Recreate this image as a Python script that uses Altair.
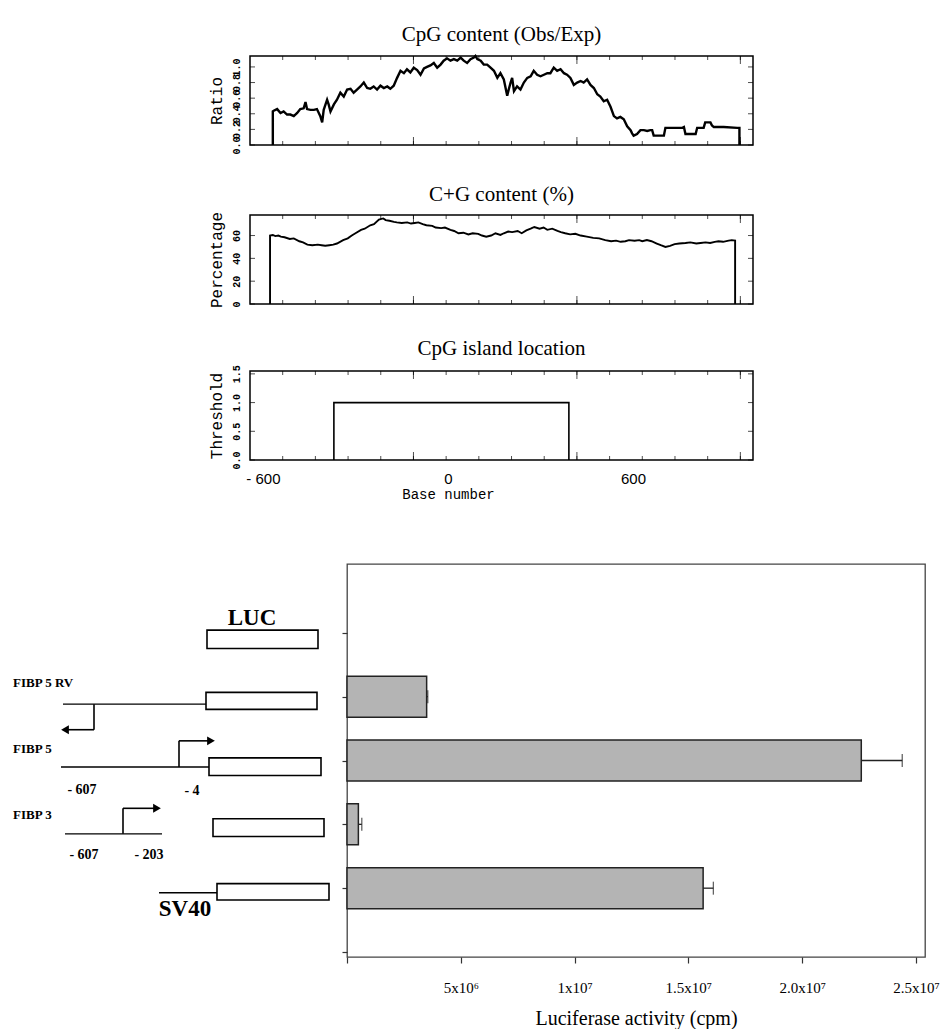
import altair as alt
import pandas as pd

# ---------------- top panels data (base number vs value) ----------------
ratio_base = [-568, -568, -565, -554, -543, -533, -522, -511, -500, -489, -479, -468, -462, -457,
              -446, -435, -425, -414, -408, -403, -392, -387, -381, -370, -360, -349, -338, -327,
              -316, -306, -295, -284, -273, -262, -252, -241, -230, -219, -208, -197, -187, -176,
              -165, -154, -143, -133, -122, -111, -100, -89, -78, -68, -57, -46, -35, -24, -14,
              -3, 8, 19, 30, 41, 51, 62, 73, 84, 89, 95, 106, 116, 127, 138, 149, 160, 170, 181,
              192, 197, 203, 208, 214, 224, 235, 246, 257, 268, 278, 289, 300, 311, 322, 332, 343,
              354, 365, 376, 386, 397, 408, 419, 430, 440, 451, 462, 473, 484, 494, 505, 516, 527,
              538, 548, 559, 570, 581, 592, 597, 602, 613, 624, 635, 646, 656, 662, 667, 700, 705,
              760, 765, 770, 803, 808, 819, 829, 834, 851, 856, 862, 894, 938, 945, 945]
ratio_value = [0, 0.43, 0.44, 0.46, 0.41, 0.43, 0.39, 0.39, 0.37, 0.41, 0.46, 0.47, 0.55, 0.46,
               0.45, 0.45, 0.46, 0.37, 0.29, 0.45, 0.58, 0.52, 0.43, 0.52, 0.58, 0.67, 0.62, 0.71,
               0.72, 0.67, 0.71, 0.75, 0.80, 0.73, 0.72, 0.75, 0.71, 0.76, 0.73, 0.75, 0.72, 0.76,
               0.86, 0.95, 0.92, 0.97, 0.93, 0.99, 0.96, 0.90, 0.98, 1.00, 1.02, 1.05, 0.99, 1.03,
               1.08, 1.11, 1.08, 1.10, 1.08, 1.12, 1.08, 1.05, 1.10, 1.12, 1.14, 1.10, 1.08, 1.03,
               1.03, 0.99, 0.95, 0.86, 0.92, 0.84, 0.63, 0.71, 0.80, 0.86, 0.69, 0.75, 0.71, 0.80,
               0.86, 0.88, 0.95, 0.90, 0.88, 0.90, 0.92, 0.92, 0.99, 0.95, 0.97, 0.92, 0.90, 0.86,
               0.77, 0.80, 0.82, 0.80, 0.84, 0.77, 0.73, 0.65, 0.62, 0.56, 0.58, 0.49, 0.37, 0.34,
               0.36, 0.33, 0.24, 0.19, 0.15, 0.12, 0.14, 0.19, 0.19, 0.18, 0.19, 0.19, 0.12, 0.12,
               0.22, 0.22, 0.23, 0.14, 0.14, 0.22, 0.22, 0.22, 0.29, 0.29, 0.25, 0.23, 0.23, 0.22,
               0.22, 0]

gc_base = [-577, -577, -568, -560, -550, -542, -530, -513, -500, -482, -470, -456, -440, -422,
           -410, -398, -385, -372, -360, -340, -325, -312, -300, -282, -270, -252, -240, -224,
           -210, -202, -190, -175, -166, -150, -132, -120, -108, -96, -82, -70, -51, -40, -22,
           -10, 8, 20, 34, 50, 66, 80, 98, 110, 124, 140, 154, 170, 181, 195, 208, 226, 239, 254,
           268, 280, 297, 310, 322, 338, 355, 366, 380, 396, 413, 430, 450, 471, 490, 510, 529,
           545, 560, 575, 587, 605, 620, 630, 645, 660, 677, 690, 705, 720, 735, 750, 770, 786,
           805, 819, 835, 850, 865, 877, 892, 910, 920, 931, 931]
gc_value = [0, 60, 60.5, 59.5, 60, 59, 58.5, 57, 57.5, 55, 54, 52, 51.5, 52, 51.5, 51, 51.5, 52,
            53, 56, 57.5, 60, 62, 65, 66, 69, 70, 74, 75, 73.5, 73, 72, 71.5, 71, 71.5, 70.5, 71,
            71.5, 70, 69, 68.5, 67, 66.5, 67, 65, 64, 62, 62.5, 61, 62, 61.5, 60, 59, 60, 62,
            60.5, 62, 63.5, 63, 64, 62, 64.5, 66, 67.5, 66, 67, 65, 66, 64, 63, 62, 61, 61.5, 60,
            59, 58, 57.5, 56, 55, 55.5, 54.5, 55, 56, 55.5, 56, 55, 56, 55, 53, 51.5, 50, 51, 52.5,
            53, 53.5, 54, 53, 53.5, 54, 53.5, 54.5, 55, 54.5, 55.5, 56, 55.5, 0]

island_base = [-370, -370, 392, 392]
island_value = [0, 1, 1, 0]

x_ticks_minor = [-536, -430, -324, -218, -112, -6, 100, 206, 312, 418, 524, 630, 736, 842, 948]
x_ticks_major = [-112, 418, 948]
x_label_values = [-600, 0, 600]
x_label_texts = ["- 600", "0", "600"]

# ---------------- luciferase data ----------------
constructs = ["LUC", "FIBP 5 RV", "FIBP 5", "FIBP 3", "SV40"]
rows = [1, 2, 3, 4, 5]
activity = [0, 3.5e6, 22.6e6, 0.5e6, 15.65e6]
activity_err = [0, 0.05e6, 1.8e6, 0.15e6, 0.45e6]
lum_tick_values = [0, 5e6, 1e7, 1.5e7, 2e7, 2.5e7]
lum_tick_labels = ["", "5x10\u2076", "1x10\u2077", "1.5x10\u2077", "2.0x10\u2077", "2.5x10\u2077"]

# ---------------- construct diagram (schematic units) ----------------
box_x1 = [199, 198, 201, 205, 209]
box_x2 = [310, 309, 313, 316, 321]
box_row_top = [1.01, 1.96, 2.96, 3.89, 4.88]
box_row_bottom = [1.29, 2.22, 3.23, 4.16, 5.13]
prom_x1 = [55, 53, 57, 151]
prom_x2 = [198, 201, 154, 209]
prom_row = [2.14, 3.10, 4.12, 5.02]
arrow_x = [86, 171, 115]
arrow_row_from = [2.14, 3.10, 4.12]
arrow_row_to = [2.53, 2.70, 3.73]
arrow_x_end = [60, 200, 146]
head_x = [57, 203, 149]
head_shape = ["triangle-left", "triangle-right", "triangle-right"]
big_labels = ["LUC", "SV40"]
big_label_x = [244, 177]
big_label_row = [0.83, 5.27]
name_labels = ["FIBP 5 RV", "FIBP 5", "FIBP 3"]
name_label_x = [5, 5, 5]
name_label_row = [1.82, 2.83, 3.83]
pos_labels = ["- 607", "- 4", "- 607", "- 203"]
pos_label_x = [74, 184, 76, 141]
pos_label_row = [3.45, 3.46, 4.44, 4.44]

# ---------------- layout settings ----------------
PW, PH = 503, 89
XDOM = [-642, 989]
MONO = "Liberation Mono"
SERIF = "Liberation Serif"


def frame_view(color="black", width=1.5):
    return alt.ViewBackground(stroke=color, strokeWidth=width, fill=None)


def panel(base, values, ydom, yvals, yfmt, ytitle, title, line_w, show_x=False):
    df = pd.DataFrame({"x": base, "y": values, "i": list(range(len(base)))})
    if show_x:
        expr = " : ".join(
            f"datum.value == {v} ? '{t}'" for v, t in zip(x_label_values, x_label_texts)
        ) + " : ''"
        xaxis = alt.Axis(values=x_label_values, labelExpr=expr, ticks=False, domain=False,
                         grid=False, labelFont="Liberation Sans", labelFontSize=15,
                         labelColor="black", labelPadding=11, title="Base number",
                         titleFont=MONO, titleFontSize=14, titleFontWeight="normal",
                         titleColor="black", titlePadding=1, titleX=198, titleAlign="center")
    else:
        xaxis = None
    X = alt.X("x:Q", scale=alt.Scale(domain=XDOM, nice=False, zero=False), axis=xaxis)
    Y = alt.Y("y:Q", scale=alt.Scale(domain=ydom, nice=False, zero=False),
              axis=alt.Axis(values=yvals, format=yfmt, labelAngle=270, labelAlign="center",
                            labelBaseline="bottom", labelOverlap=False, labelFont=MONO,
                            labelFontSize=10, labelFontWeight="bold", labelColor="black",
                            labelPadding=9, ticks=False, domain=False, grid=False,
                            title=ytitle, titleFont=MONO, titleFontSize=16,
                            titleFontWeight="normal", titleColor="black", titlePadding=7))
    line = alt.Chart(df).mark_line(color="black", strokeWidth=line_w, strokeJoin="miter").encode(
        x=X, y=Y, order="i:Q")
    tmin = pd.DataFrame({"x": x_ticks_minor})
    tmaj = pd.DataFrame({"x": x_ticks_major})
    yt = pd.DataFrame({"y": yvals})
    layers = [line]
    for d, s in ((tmin, 4), (tmaj, 8)):
        layers.append(alt.Chart(d).mark_tick(orient="vertical", size=s, thickness=1, color="black")
                      .encode(x=X, y=alt.value(PH - s / 2)))
        layers.append(alt.Chart(d).mark_tick(orient="vertical", size=s, thickness=1, color="black")
                      .encode(x=X, y=alt.value(s / 2)))
    layers.append(alt.Chart(yt).mark_tick(orient="horizontal", size=5, thickness=1, color="black")
                  .encode(y=Y, x=alt.value(2.5)))
    layers.append(alt.Chart(yt).mark_tick(orient="horizontal", size=5, thickness=1, color="black")
                  .encode(y=Y, x=alt.value(PW - 2.5)))
    return alt.layer(*layers).properties(
        width=PW, height=PH, view=frame_view(),
        title=alt.TitleParams(title, font=SERIF, fontSize=21, fontWeight="normal",
                              color="black", anchor="middle", frame="group", offset=6))


p1 = panel(ratio_base, ratio_value, [0, 1.14], [0, 0.2, 0.4, 0.6, 0.8, 1.0], ".1f",
           "Ratio", "CpG content (Obs/Exp)", 2.4)
p2 = panel(gc_base, gc_value, [0, 78], [0, 20, 40, 60], "d",
           "Percentage", "C+G content (%)", 1.9)
p3 = panel(island_base, island_value, [0, 1.55], [0, 0.5, 1.0, 1.5], ".1f",
           "Threshold", "CpG island location", 1.6, show_x=True)

top_stack = alt.vconcat(p1, p2, p3, spacing=28)

spacer = alt.Chart(pd.DataFrame({"s": [0]})).mark_point(opacity=0).encode(
    x=alt.X("s:Q", axis=None), y=alt.Y("s:Q", axis=None)
).properties(width=199, height=1, view=alt.ViewBackground(stroke=None))

top_row = alt.hconcat(spacer, top_stack, spacing=0)

# ---------------- bottom: diagram + bars ----------------
BH = 393
BW = 578
DW = 332
ROWDOM = [0, 6]

DX = alt.X("dx:Q", scale=alt.Scale(domain=[0, DW], nice=False, zero=False), axis=None)
DY = alt.Y("dy:Q", scale=alt.Scale(domain=ROWDOM, reverse=True, nice=False, zero=False), axis=None)
DY2 = alt.Y2("dy2:Q")
DX2 = alt.X2("dx2:Q")

boxes = alt.Chart(pd.DataFrame({"dx": box_x1, "dx2": box_x2, "dy": box_row_top,
                                "dy2": box_row_bottom})).mark_rect(
    fill="white", stroke="black", strokeWidth=1.6).encode(x=DX, x2=DX2, y=DY, y2=DY2)
prom = alt.Chart(pd.DataFrame({"dx": prom_x1, "dx2": prom_x2, "dy": prom_row})).mark_rule(
    color="black", strokeWidth=1.4).encode(x=DX, x2=DX2, y=DY)
stems = alt.Chart(pd.DataFrame({"dx": arrow_x, "dy": arrow_row_from, "dy2": arrow_row_to})).mark_rule(
    color="black", strokeWidth=1.6).encode(x=DX, y=DY, y2=DY2)
arms = alt.Chart(pd.DataFrame({"dx": arrow_x, "dx2": arrow_x_end, "dy": arrow_row_to})).mark_rule(
    color="black", strokeWidth=1.6).encode(x=DX, x2=DX2, y=DY)
heads = alt.Chart(pd.DataFrame({"dx": head_x, "dy": arrow_row_to, "shp": head_shape})).mark_point(
    filled=True, color="black", size=80, opacity=1).encode(
    x=DX, y=DY, shape=alt.Shape("shp:N", scale=None, legend=None))
big_txt = alt.Chart(pd.DataFrame({"dx": big_label_x, "dy": big_label_row, "t": big_labels})).mark_text(
    font=SERIF, fontSize=23, fontWeight="bold", color="black").encode(x=DX, y=DY, text="t:N")
name_txt = alt.Chart(pd.DataFrame({"dx": name_label_x, "dy": name_label_row, "t": name_labels})).mark_text(
    font=SERIF, fontSize=13, fontWeight="bold", color="black", align="left").encode(
    x=DX, y=DY, text="t:N")
pos_txt = alt.Chart(pd.DataFrame({"dx": pos_label_x, "dy": pos_label_row, "t": pos_labels})).mark_text(
    font=SERIF, fontSize=14, fontWeight="bold", color="black").encode(x=DX, y=DY, text="t:N")

diagram = alt.layer(boxes, prom, stems, arms, heads, big_txt, name_txt, pos_txt).properties(
    width=DW, height=BH, view=alt.ViewBackground(stroke=None))

bar_df = pd.DataFrame({"construct": constructs, "row": rows, "act": activity,
                       "lo": activity, "hi": [a + e for a, e in zip(activity, activity_err)]})
bar_df = bar_df[bar_df["act"] > 0]

lab_expr = " : ".join(
    f"datum.value == {int(v)} ? '{t}'" for v, t in zip(lum_tick_values, lum_tick_labels)
) + " : ''"
XS = alt.Scale(domain=[0, 25.4e6], nice=False, zero=True)
BX = alt.X("act:Q", scale=XS,
           axis=alt.Axis(values=lum_tick_values, labelExpr=lab_expr, tickSize=6, tickColor="#333",
                         tickWidth=1.2, domain=False, grid=False, labelFont=SERIF,
                         labelFontSize=15, labelColor="black", labelPadding=17,
                         title="Luciferase activity (cpm)", titleFont=SERIF, titleFontSize=20,
                         titleFontWeight="normal", titleColor="black", titlePadding=13))
BY = alt.Y("row:Q", scale=alt.Scale(domain=ROWDOM, reverse=True, nice=False, zero=False),
           axis=alt.Axis(values=[1, 2, 3, 4, 5, 6], labels=False, tickSize=5, tickColor="#333",
                         tickWidth=1.2, domain=False, grid=False, title=None))

bars = alt.Chart(bar_df).mark_bar(orient="horizontal", size=41, color="#b4b4b4", stroke="#222",
                                  strokeWidth=1.5).encode(x=BX, y=BY)
err = alt.Chart(bar_df).mark_rule(color="#222", strokeWidth=1.3).encode(
    x=alt.X("lo:Q", scale=XS), x2="hi:Q", y=BY)
cap = alt.Chart(bar_df).mark_tick(orient="vertical", size=13, thickness=1.3, color="#222").encode(
    x=alt.X("hi:Q", scale=XS), y=BY)

bar_chart = alt.layer(bars, err, cap).properties(
    width=BW, height=BH, view=frame_view("#444", 1.3))

bottom_row = alt.hconcat(diagram, bar_chart, spacing=0)

chart = alt.vconcat(top_row, bottom_row, spacing=61).properties(
    padding={"left": 0, "top": 15, "right": 0, "bottom": 0}
).configure(background="white").configure_view(stroke=None)

chart.save("out.html", embed_options={"renderer": "svg", "actions": False})
